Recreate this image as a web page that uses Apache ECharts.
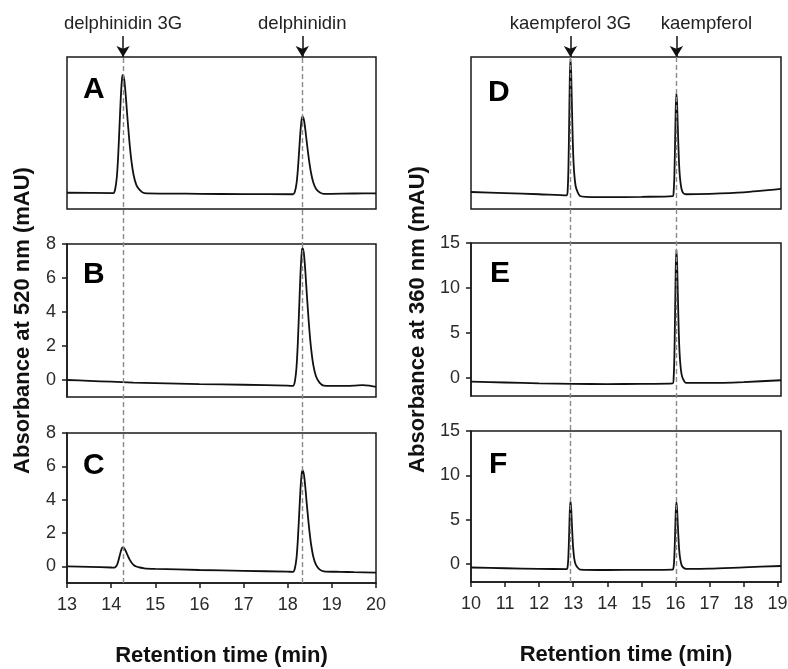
<!DOCTYPE html>
<html><head><meta charset="utf-8">
<script src="https://cdn.jsdelivr.net/npm/echarts@6/dist/echarts.min.js"></script>
<style>html,body{margin:0;padding:0;background:#fff}#c{width:788px;height:669px}</style>
</head><body><div id="c"></div>
<script>
// ---- Data ----
const leftTicksX = [13,14,15,16,17,18,19,20];
const rightTicksX = [10,11,12,13,14,15,16,17,18,19];
const ticks520 = [0,2,4,6,8];
const ticks360 = [0,5,10,15];
const leftMarkers = [14.27, 18.33];
const leftMarkerNames = ['delphinidin 3G','delphinidin'];
const rightMarkers = [12.92, 16.03];
const rightMarkerNames = ['kaempferol 3G','kaempferol'];
const panelLetters = ['A','B','C','D','E','F'];

// Panel A (arbitrary units, no scale)
const aT = [13,14.05,14.09,14.13,14.16,14.19,14.22,14.25,14.27,14.30,14.33,14.36,14.39,14.42,14.46,14.51,14.57,14.65,14.75,16,17,18.12,18.16,18.20,18.23,18.26,18.29,18.32,18.34,18.37,18.40,18.43,18.46,18.49,18.53,18.58,18.64,18.72,18.82,19.5,20];
const aV = [1.07,1.05,1.28,2.14,3.54,5.48,7.42,8.66,8.82,8.43,7.50,6.33,5.25,4.24,3.15,2.22,1.59,1.24,1.05,1.0,0.98,0.97,1.12,1.68,2.60,3.88,5.15,5.97,6.07,5.82,5.20,4.44,3.72,3.06,2.35,1.74,1.33,1.10,0.99,1.02,1.03];
// Panel B
const bT = [13,13.5,14,14.5,15,16,17,18.0,18.12,18.16,18.20,18.23,18.26,18.29,18.32,18.34,18.37,18.40,18.43,18.46,18.49,18.53,18.58,18.64,18.72,18.82,19.2,19.5,19.7,19.85,20];
const bV = [0.0,-0.05,-0.1,-0.15,-0.18,-0.24,-0.28,-0.33,-0.35,-0.11,0.78,2.24,4.27,6.29,7.59,7.75,7.35,6.37,5.16,4.02,2.97,1.84,0.87,0.22,-0.15,-0.33,-0.35,-0.33,-0.3,-0.33,-0.4];
// Panel C
const cT = [13,13.5,14.0,14.05,14.09,14.13,14.16,14.19,14.22,14.25,14.27,14.30,14.33,14.36,14.39,14.42,14.46,14.51,14.57,14.65,14.75,15,16,17,18.0,18.12,18.16,18.20,18.23,18.26,18.29,18.32,18.34,18.37,18.40,18.43,18.46,18.49,18.53,18.58,18.64,18.72,18.82,19.2,19.5,20];
const cV = [0.0,-0.03,-0.07,-0.08,-0.06,0.07,0.29,0.60,0.91,1.11,1.13,1.07,0.92,0.74,0.56,0.40,0.23,0.08,-0.01,-0.07,-0.12,-0.15,-0.22,-0.27,-0.32,-0.33,-0.15,0.52,1.62,3.14,4.66,5.63,5.75,5.45,4.72,3.80,2.95,2.16,1.31,0.58,0.10,-0.18,-0.3,-0.33,-0.35,-0.38];
// Panel D (arbitrary units, no scale)
const dT = [10,11,12,12.81,12.84,12.86,12.88,12.90,12.92,12.94,12.96,12.98,13.00,13.03,13.07,13.12,13.20,13.4,14,15,15.92,15.95,15.97,15.99,16.01,16.03,16.05,16.07,16.09,16.11,16.14,16.18,16.23,16.31,17,18,19.1];
const dV = [1.12,1.05,0.97,0.9,1.35,2.7,5.4,8.55,9.9,9.0,7.02,5.13,3.6,2.34,1.53,1.17,0.85,0.8,0.78,0.8,0.85,1.19,2.2,4.23,6.59,7.6,6.93,5.44,4.02,2.88,1.93,1.32,1.05,0.97,1.0,1.1,1.32];
// Panel E
const eT = [10,11,12,13,14,15,15.92,15.95,15.97,15.99,16.01,16.03,16.05,16.07,16.09,16.11,16.14,16.18,16.23,16.31,17,18,19.1];
const eV = [-0.4,-0.5,-0.6,-0.65,-0.68,-0.65,-0.6,0.15,2.38,6.85,12.07,14.3,12.81,9.53,6.4,3.87,1.78,0.44,-0.15,-0.55,-0.55,-0.45,-0.25];
// Panel F
const fT = [10,11,12,12.81,12.84,12.86,12.88,12.90,12.92,12.94,12.96,12.98,13.00,13.03,13.07,13.12,13.20,14,15,15.92,15.95,15.97,15.99,16.01,16.03,16.05,16.07,16.09,16.11,16.14,16.18,16.23,16.31,17,18,19.1];
const fV = [-0.37,-0.45,-0.52,-0.55,-0.17,0.98,3.28,5.95,7.1,6.34,4.65,3.05,1.75,0.67,-0.01,-0.32,-0.6,-0.65,-0.63,-0.6,-0.22,0.92,3.2,5.86,7.0,6.24,4.57,2.97,1.68,0.62,-0.07,-0.37,-0.52,-0.5,-0.35,-0.2];

// ---- Chart ----
const FONT = '"Liberation Sans", Arial, sans-serif';
const zip = (t, v) => t.map((x, i) => [x, v[i]]);

const L = {left: 67, width: 309};
const R = {left: 471, width: 310};
const grids = [
  {left: L.left, width: L.width, top: 57, height: 152},   // A
  {left: L.left, width: L.width, top: 244, height: 153},  // B
  {left: L.left, width: L.width, top: 433, height: 150},  // C
  {left: R.left, width: R.width, top: 57, height: 152},   // D
  {left: R.left, width: R.width, top: 243, height: 153},  // E
  {left: R.left, width: R.width, top: 431, height: 151},  // F
  {left: L.left, width: L.width, top: 57, height: 526},   // 6 dashed left
  {left: R.left, width: R.width, top: 57, height: 525},   // 7 dashed right
  {left: L.left, width: L.width, top: 36, height: 21},    // 8 arrows left
  {left: R.left, width: R.width, top: 36, height: 21}     // 9 arrows right
].map((g, i) => Object.assign({
  show: i < 6, borderColor: '#1a1a1a', borderWidth: 1.5, backgroundColor: 'transparent',
  containLabel: false, outerBoundsMode: 'none'
}, g));

const xRanges = [[13,20],[13,20],[13,20],[10,19.1],[10,19.1],[10,19.1],[13,20],[10,19.1],[13,20],[10,19.1]];
const labelStyle = {fontFamily: FONT, fontSize: 18, color: '#2a2a2a'};
const titleStyle = {fontFamily: FONT, fontSize: 22, fontWeight: 'bold', color: '#111'};

const xAxes = xRanges.map((r, i) => {
  const base = {type: 'value', gridIndex: i, min: r[0], max: r[1], splitLine: {show: false}};
  if (i === 2 || i === 5) {
    const tv = i === 2 ? leftTicksX : rightTicksX;
    return Object.assign(base, {
      axisLine: {show: true, onZero: false, lineStyle: {color: '#1a1a1a', width: 1.5}},
      axisTick: {show: true, length: 5, lineStyle: {color: '#1a1a1a', width: 1.5}, customValues: tv},
      axisLabel: Object.assign({margin: 13, customValues: tv}, labelStyle),
      name: 'Retention time (min)', nameLocation: 'middle', nameGap: 62,
      nameTextStyle: titleStyle
    });
  }
  return Object.assign(base, {show: false});
});

const yDefs = [
  {min: 0, max: 10}, {min: -1, max: 8, ticks: ticks520, name: 'Absorbance at 520 nm (mAU)', gap: 33},
  {min: -1, max: 8, ticks: ticks520},
  {min: 0, max: 10}, {min: -2, max: 15, ticks: ticks360, name: 'Absorbance at 360 nm (mAU)', gap: 42},
  {min: -2, max: 15, ticks: ticks360},
  {min: 0, max: 1}, {min: 0, max: 1}, {min: 0, max: 1}, {min: 0, max: 1}
];
const yAxes = yDefs.map((d, i) => {
  const base = {type: 'value', gridIndex: i, min: d.min, max: d.max, splitLine: {show: false}};
  if (!d.ticks) return Object.assign(base, {show: false});
  const ax = Object.assign(base, {
    axisLine: {show: true, onZero: false, lineStyle: {color: '#1a1a1a', width: 1.5}},
    axisTick: {show: true, length: 5, lineStyle: {color: '#1a1a1a', width: 1.5}, customValues: d.ticks},
    axisLabel: Object.assign({margin: 11, customValues: d.ticks}, labelStyle)
  });
  if (d.name) Object.assign(ax, {name: d.name, nameLocation: 'middle', nameGap: d.gap, nameTextStyle: titleStyle});
  return ax;
});

const traces = [[aT,aV],[bT,bV],[cT,cV],[dT,dV],[eT,eV],[fT,fV]].map((p, i) => ({
  type: 'line', xAxisIndex: i, yAxisIndex: i, data: zip(p[0], p[1]),
  showSymbol: false, symbol: 'none', smooth: 0.25,
  lineStyle: {color: '#111', width: 1.8}, z: 3, silent: true
}));

const dashed = (gi, vals) => ({
  type: 'line', xAxisIndex: gi, yAxisIndex: gi, data: [], z: 5, silent: true,
  markLine: {
    silent: true, symbol: ['none','none'], animation: false,
    lineStyle: {color: '#8a8a8a', width: 1.4, type: [5, 3]},
    label: {show: false},
    data: vals.map(v => ({xAxis: v}))
  }
});
const arrows = (gi, vals, names, offsets) => ({
  type: 'line', xAxisIndex: gi, yAxisIndex: gi, data: [], z: 6, silent: true,
  markLine: {
    silent: true, symbol: ['arrow','none'], symbolSize: [10, 11], animation: false,
    lineStyle: {color: '#111', width: 1.5, type: 'solid'},
    label: {show: true, position: 'end', distance: 3, formatter: '{b}',
            fontFamily: FONT, fontSize: 18.5, color: '#222'},
    data: vals.map((v, k) => ({xAxis: v, name: names[k], label: {offset: [offsets[k], 0]}}))
  }
});

const letterPos = [[83,75],[83,260],[83,451],[488,78],[490,259],[489,450]];
const titles = panelLetters.map((t, i) => ({
  text: t, left: letterPos[i][0], top: letterPos[i][1], padding: 0,
  textStyle: {fontFamily: FONT, fontSize: 30, fontWeight: 'bold', color: '#000'}
}));

const chart = echarts.init(document.getElementById('c'), null, {renderer: 'canvas'});
chart.setOption({
  animation: false,
  backgroundColor: '#fff',
  title: titles,
  grid: grids,
  xAxis: xAxes,
  yAxis: yAxes,
  series: traces.concat([
    dashed(6, leftMarkers), dashed(7, rightMarkers),
    arrows(8, leftMarkers, leftMarkerNames, [0, 0]),
    arrows(9, rightMarkers, rightMarkerNames, [0, 30])
  ])
});
</script></body></html>
